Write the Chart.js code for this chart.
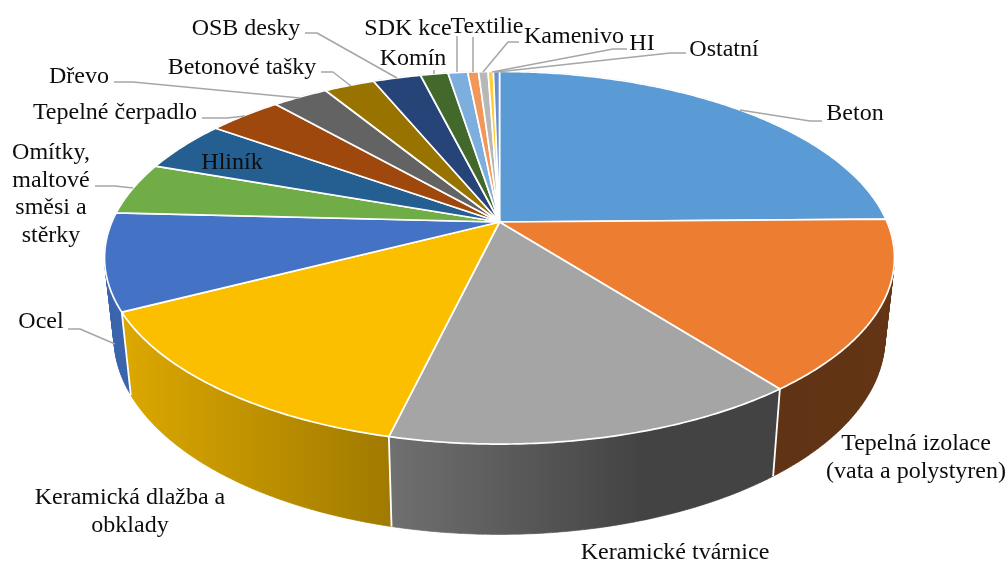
<!DOCTYPE html>
<html lang="cs"><head><meta charset="utf-8">
<style>html,body{margin:0;padding:0;background:#fff}canvas{display:block}</style>
<script src="https://cdn.jsdelivr.net/npm/chart.js@4"></script>
</head><body><canvas id="c" width="1008" height="561"></canvas>
<script>
const categories=["Beton","Tepelná izolace (vata a polystyren)","Keramické tvárnice","Keramická dlažba a obklady","Ocel","Omítky, maltové směsi a stěrky","Hliník","Tepelné čerpadlo","Dřevo","Betonové tašky","OSB desky","Komín","SDK kce","Textilie","Kamenivo","HI","Ostatní"];
const values=[24.75,14.75,14.25,13.7,8.4,4.55,4.5,3.64,2.75,2.5,2.36,1.36,0.97,0.53,0.47,0.26,0.3];
const topColors=["#5B9BD5","#ED7D31","#A5A5A5","#FBBF00","#4472C4","#70AD47","#255E91","#9E480E","#636363","#997300","#264478","#43682B","#7CAFDD","#F1975A","#B7B7B7","#FFCD33","#698ED0"];
const wallLeft=["#3F6E99","#5F3314","#707070","#DCA800","#3A64AC","#4E7A30","#1A4266","#6E320A","#454545","#6B5000","#1A3054","#2F491E","#5A82A8","#A86A3F","#808080","#B29024","#4A6391"];
const wallRight=["#3F6E99","#633515","#434343","#A07A00","#3A64AC","#4E7A30","#1A4266","#6E320A","#454545","#6B5000","#1A3054","#2F491E","#5A82A8","#A86A3F","#808080","#B29024","#4A6391"];
const labelLines=[["Beton"],["Tepelná izolace","(vata a polystyren)"],["Keramické tvárnice"],["Keramická dlažba a","obklady"],["Ocel"],["Omítky,","maltové","směsi a","stěrky"],["Hliník"],["Tepelné čerpadlo"],["Dřevo"],["Betonové tašky"],["OSB desky"],["Komín"],["SDK kce"],["Textilie"],["Kamenivo"],["HI"],["Ostatní"]];
const labelCenters=[[855,114],[916,444],[675,553],[130,498],[41,322],[51,153],[232,163],[115,113],[79,77],[242,68],[246,29],[413,59],[408,29],[487,27],[574,37],[642,44],[724,50]];
const leaders=[[[822,121],[810,121],[740,110]],[],[],[],[[68,329],[80,329],[115,344]],[[95,186],[115,186],[133,188]],[],[[202,118],[227,118],[245,116]],[[114,82],[133,82],[300,98]],[[321,72],[333,72],[351,86]],[[305,33],[317,33],[397,78]],[[434,70],[434,74]],[[457,36],[457,72]],[[473,37],[473,72]],[[519,42],[508,42],[483,72]],[[627,49],[613,49],[492,72]],[[686,53],[670,53],[497,72]]];

// Perspective projection of the unit pie disc on to the page.
const view={cx:499.5,apexY:222,a:136.8,p:-0.192,A:387.6,wallX:0.976,wallYk:1.056,wallYb:65.5};
const proj=t=>{const u=Math.sin(t),v=-Math.cos(t),w=1+view.p*v;return[view.cx+view.A*u/w,(view.a*v+view.apexY)/w];};
const low=P=>[view.cx+(P[0]-view.cx)*view.wallX,P[1]*view.wallYk+view.wallYb];
const samples=(a,b)=>{const n=Math.max(2,Math.ceil((b-a)/0.01)),r=[];for(let i=0;i<=n;i++)r.push(a+(b-a)*i/n);return r;};

const pie3d={id:'pie3d',
 beforeDatasetDraw(chart,args){
  const ctx=chart.ctx,arcs=chart.getDatasetMeta(args.index).data;
  const span=el=>[el.startAngle+Math.PI/2,el.endAngle+Math.PI/2];
  ctx.save();ctx.lineJoin='round';
  // walls: a quad per step, so that the sweep between the two rims is fully covered
  arcs.forEach((el,i)=>{
   const[s,e]=span(el);
   const pts=samples(s,e).map(proj).map(p=>[p,low(p)]),xs=[];
   pts.forEach(q=>xs.push(q[0][0],q[1][0]));
   const g=ctx.createLinearGradient(Math.min(...xs),0,Math.max(...xs),0);
   g.addColorStop(0,wallLeft[i]);g.addColorStop(i===2?0.65:1,wallRight[i]);
   ctx.beginPath();
   for(let k=0;k<pts.length-1;k++){
    const A=pts[k],B=pts[k+1];
    ctx.moveTo(A[0][0],A[0][1]);ctx.lineTo(B[0][0],B[0][1]);ctx.lineTo(B[1][0],B[1][1]);ctx.lineTo(A[1][0],A[1][1]);ctx.closePath();
   }
   ctx.fillStyle=g;ctx.fill('nonzero');
   ctx.strokeStyle=g;ctx.lineWidth=0.6;ctx.stroke();
  });
  // white seams between the walls
  ctx.strokeStyle='#fff';ctx.lineWidth=1.8;
  arcs.forEach(el=>{
   const t=el.endAngle+Math.PI/2;
   if(t<Math.PI*0.6||t>Math.PI*1.4)return;
   const P=proj(t),Q=low(P);
   ctx.beginPath();ctx.moveTo(P[0],P[1]);ctx.lineTo(Q[0],Q[1]);ctx.stroke();
  });
  // top face slices
  arcs.forEach((el,i)=>{
   const[s,e]=span(el);
   ctx.beginPath();ctx.moveTo(view.cx,view.apexY);
   samples(s,e).map(proj).forEach(p=>ctx.lineTo(p[0],p[1]));
   ctx.closePath();ctx.fillStyle=topColors[i];ctx.fill();
   ctx.strokeStyle='#fff';ctx.lineWidth=1.7;ctx.stroke();
  });
  ctx.restore();
  return false;
 },
 afterDraw(chart){
  const ctx=chart.ctx;ctx.save();
  ctx.strokeStyle='#A6A6A6';ctx.lineWidth=1.5;ctx.lineJoin='round';
  leaders.forEach(L=>{if(!L.length)return;ctx.beginPath();L.forEach((p,k)=>k?ctx.lineTo(p[0],p[1]):ctx.moveTo(p[0],p[1]));ctx.stroke();});
  ctx.fillStyle='#0d0d0d';ctx.font='24px "Liberation Serif"';ctx.textAlign='center';ctx.textBaseline='middle';
  labelLines.forEach((lines,i)=>{
   const[x,y]=labelCenters[i];
   lines.forEach((t,k)=>ctx.fillText(t,x,y+k*27.6));
  });
  ctx.restore();
 }};

new Chart(document.getElementById('c'),{type:'pie',
 data:{labels:categories,datasets:[{data:values,backgroundColor:topColors}]},
 options:{responsive:false,animation:false,rotation:0,
  plugins:{legend:{display:false},tooltip:{enabled:false}}},
 plugins:[pie3d]});
</script></body></html>
